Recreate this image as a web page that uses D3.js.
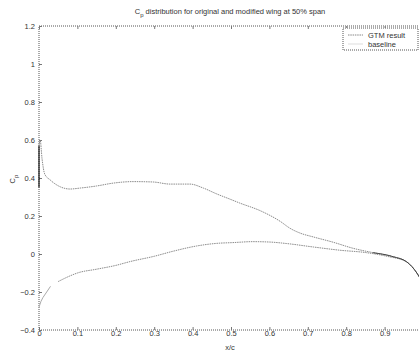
<!DOCTYPE html>
<html>
<head>
    <meta http-equiv="Content-Type" content="text/html;charset=utf8" />
    <title>Cp distribution</title>
    <script src="https://d3js.org/d3.v7.min.js"></script>
    <style>
        body { margin: 0; background: #fff; font-family: "Liberation Sans", Arial, sans-serif; }
        svg { display: block; }
    </style>
</head>
<body>
<div id="chart"></div>
<script>
    // GTM result, upper surface (x/c, Cp)
    var gtmUpperX  = [0, 0.003, 0.008, 0.015, 0.029, 0.055, 0.081, 0.107, 0.15, 0.193, 0.245, 0.297, 0.341, 0.393, 0.428, 0.463, 0.497, 0.523, 0.576, 0.628, 0.654, 0.68, 0.714, 0.766, 0.818, 0.87, 0.922, 0.958, 0.984, 0.995];
    var gtmUpperCp = [0.57, 0.6, 0.5, 0.42, 0.39, 0.354, 0.342, 0.347, 0.358, 0.373, 0.381, 0.379, 0.368, 0.368, 0.347, 0.316, 0.289, 0.268, 0.228, 0.172, 0.135, 0.11, 0.09, 0.062, 0.03, 0.007, -0.014, -0.042, -0.1, -0.137];
    // GTM result, lower surface
    var gtmLowerX  = [0.05, 0.081, 0.1, 0.15, 0.2, 0.237, 0.3, 0.35, 0.41, 0.463, 0.505, 0.557, 0.6, 0.645, 0.714, 0.783, 0.853, 0.906, 0.958, 0.984, 0.995];
    var gtmLowerCp = [-0.145, -0.115, -0.1, -0.08, -0.06, -0.04, -0.012, 0.015, 0.042, 0.056, 0.06, 0.065, 0.063, 0.055, 0.037, 0.02, 0.007, -0.012, -0.042, -0.1, -0.137];
    // leading edge segment at x/c = 0
    var edgeX  = [0, 0];
    var edgeCp = [0.35, 0.57];
    // baseline, leading edge of lower surface (rest lies under the GTM curve)
    var baseX  = [0, 0.005, 0.01, 0.02, 0.03];
    var baseCp = [-0.28, -0.25, -0.23, -0.2, -0.17];

    var xTicks = [0, 0.1, 0.2, 0.3, 0.4, 0.5, 0.6, 0.7, 0.8, 0.9];
    var yTicks = [-0.4, -0.2, 0, 0.2, 0.4, 0.6, 0.8, 1, 1.2];

    var W = 419, H = 353;
    var svg = d3.select("#chart").append("svg").attr("width", W).attr("height", H);

    var x = d3.scaleLinear().domain([0, 1]).range([39, 423]);
    var y = d3.scaleLinear().domain([-0.4, 1.2]).range([330, 26]);

    // axes box (dotted, like the scan)
    var box = svg.append("g").attr("stroke", "#555").attr("stroke-dasharray", "1,1").attr("fill", "none");
    box.append("line").attr("x1", x(0)).attr("x2", W).attr("y1", y(-0.4)).attr("y2", y(-0.4));
    box.append("line").attr("x1", x(0)).attr("x2", W).attr("y1", y(1.2)).attr("y2", y(1.2));
    box.append("line").attr("x1", x(0)).attr("x2", x(0)).attr("y1", y(-0.4)).attr("y2", y(1.2));

    // ticks, inside
    var xb = d3.axisBottom(x).tickValues(xTicks).tickSize(-3).tickPadding(1).tickFormat(d3.format("~g"));
    var gx = svg.append("g").attr("transform", "translate(0," + y(-0.4) + ")").call(xb);
    var xt = d3.axisTop(x).tickValues(xTicks).tickSize(-3).tickFormat("");
    var gxt = svg.append("g").attr("transform", "translate(0," + y(1.2) + ")").call(xt);
    var yl = d3.axisLeft(y).tickValues(yTicks).tickSize(-3).tickPadding(4).tickFormat(d3.format("~g"));
    var gy = svg.append("g").attr("transform", "translate(" + x(0) + ",0)").call(yl);
    [gx, gxt, gy].forEach(function(g) {
        g.select(".domain").remove();
        g.selectAll(".tick line").attr("stroke", "#777");
        g.selectAll("text").attr("font-size", 7.5).attr("fill", "#333").attr("font-family", "Liberation Sans, Arial, sans-serif");
    });

    var smooth = d3.line().x(function(d) { return x(d[0]); }).y(function(d) { return y(d[1]); }).curve(d3.curveMonotoneX);
    var straight = d3.line().x(function(d) { return x(d[0]); }).y(function(d) { return y(d[1]); });

    function pairs(xs, ys) { return xs.map(function(v, i) { return [v, ys[i]]; }); }

    // baseline (light)
    svg.append("path").datum(pairs(baseX, baseCp)).attr("d", straight)
        .attr("fill", "none").attr("stroke", "#aaa").attr("stroke-width", 1);

    // GTM result
    svg.append("path").datum(pairs(gtmUpperX, gtmUpperCp)).attr("d", smooth)
        .attr("fill", "none").attr("stroke", "#8c8c8c").attr("stroke-width", 1).attr("stroke-dasharray", "1.5,0.8");
    svg.append("path").datum(pairs(gtmLowerX, gtmLowerCp)).attr("d", smooth)
        .attr("fill", "none").attr("stroke", "#8c8c8c").attr("stroke-width", 1).attr("stroke-dasharray", "1.5,0.8");
    // darker trailing edge where both surfaces overlap
    svg.append("path").datum(pairs(gtmUpperX.slice(-5), gtmUpperCp.slice(-5))).attr("d", smooth)
        .attr("fill", "none").attr("stroke", "#444").attr("stroke-width", 1);
    // leading edge segment on the axis
    svg.append("path").datum(pairs(edgeX, edgeCp)).attr("d", straight)
        .attr("fill", "none").attr("stroke", "#111").attr("stroke-width", 1.2);

    // legend
    var lg = svg.append("g").attr("transform", "translate(343,28)");
    lg.append("rect").attr("width", 75).attr("height", 22).attr("fill", "#fff")
        .attr("stroke", "#555").attr("stroke-dasharray", "1,1");
    lg.append("line").attr("x1", 5).attr("x2", 20).attr("y1", 7).attr("y2", 7)
        .attr("stroke", "#888").attr("stroke-dasharray", "1.5,0.8");
    lg.append("line").attr("x1", 5).attr("x2", 20).attr("y1", 16).attr("y2", 16).attr("stroke", "#ddd");
    lg.append("text").attr("x", 25).attr("y", 9.5).attr("font-size", 7.5).attr("fill", "#333").text("GTM result");
    lg.append("text").attr("x", 25).attr("y", 18.5).attr("font-size", 7.5).attr("fill", "#333").text("baseline");

    // title
    var title = svg.append("text").attr("x", 230).attr("y", 14).attr("text-anchor", "middle")
        .attr("font-size", 7.5).attr("fill", "#333");
    title.append("tspan").text("C");
    title.append("tspan").attr("dy", 2.5).attr("font-size", 6).text("p");
    title.append("tspan").attr("dy", -2.5).text(" distribution for original and modified wing at 50% span");

    // axis labels
    svg.append("text").attr("x", 230).attr("y", 350).attr("text-anchor", "middle")
        .attr("font-size", 7.5).attr("fill", "#333").text("x/c");
    var yLab = svg.append("text").attr("transform", "translate(15,179) rotate(-90)").attr("text-anchor", "middle")
        .attr("font-size", 7.5).attr("fill", "#333");
    yLab.append("tspan").text("C");
    yLab.append("tspan").attr("dy", 2.5).attr("font-size", 6).text("p");
</script>
</body>
</html>
